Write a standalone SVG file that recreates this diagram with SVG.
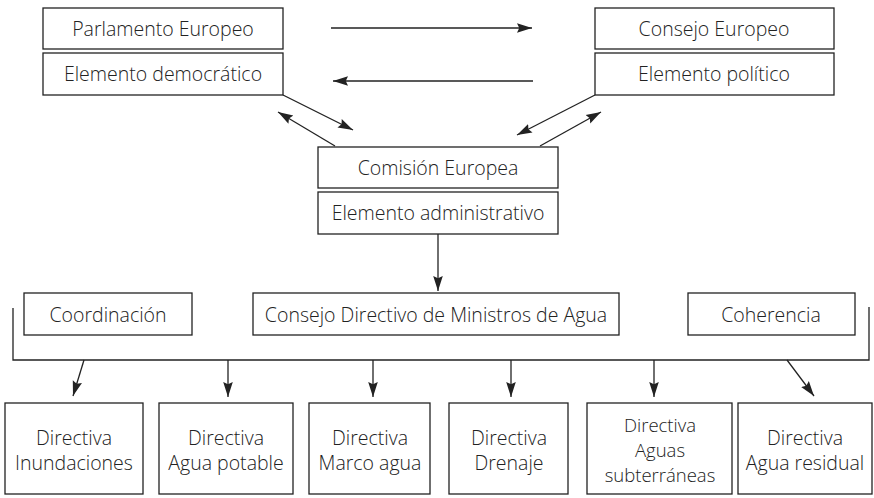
<svg xmlns="http://www.w3.org/2000/svg" width="874" height="498" viewBox="0 0 874 498">
<defs>
<style>
rect.b{fill:#fff;stroke:#222;stroke-width:1.3}
text{font-family:"Open Sans","Liberation Sans",sans-serif;font-weight:300;font-size:19.5px;fill:#222;text-anchor:middle}
text.s{font-size:18.5px}
.c line,.c polyline{stroke:#222;stroke-width:1.3;fill:none}
</style>
<marker id="ah" viewBox="0 0 10 10" refX="10" refY="5" markerWidth="15" markerHeight="15" markerUnits="userSpaceOnUse" orient="auto">
<path d="M0,1.8 L10,5 L0,8.2 L1.5,5 Z" fill="#222"/>
</marker>
</defs>
<rect width="874" height="498" fill="#fff"/>
<g id="parlamento"><rect class="b" x="43" y="8" width="240" height="41"/><text x="163" y="36">Parlamento Europeo</text></g>
<g id="democratico"><rect class="b" x="43" y="53" width="240" height="42"/><text x="163" y="81">Elemento democrático</text></g>
<g id="consejo-europeo"><rect class="b" x="595" y="8" width="239" height="41"/><text x="714" y="36">Consejo Europeo</text></g>
<g id="politico"><rect class="b" x="595" y="53" width="239" height="42"/><text x="714" y="81">Elemento político</text></g>
<g id="comision"><rect class="b" x="318" y="147" width="240" height="41"/><text x="438" y="175">Comisión Europea</text></g>
<g id="administrativo"><rect class="b" x="318" y="192" width="240" height="42"/><text x="438" y="220">Elemento administrativo</text></g>
<g id="coordinacion"><rect class="b" x="24" y="293" width="168" height="42"/><text x="108" y="322">Coordinación</text></g>
<g id="consejo-directivo"><rect class="b" x="253" y="293" width="366" height="42"/><text x="436" y="322">Consejo Directivo de Ministros de Agua</text></g>
<g id="coherencia"><rect class="b" x="688" y="293" width="167" height="42"/><text x="771" y="322">Coherencia</text></g>
<g id="d-inundaciones"><rect class="b" x="5" y="403" width="138" height="91"/><text x="74" y="445">Directiva</text><text x="74" y="470">Inundaciones</text></g>
<g id="d-potable"><rect class="b" x="159" y="403" width="134" height="91"/><text x="226" y="445">Directiva</text><text x="226" y="470">Agua potable</text></g>
<g id="d-marco"><rect class="b" x="309" y="403" width="121" height="91"/><text x="370" y="445">Directiva</text><text x="370" y="470">Marco agua</text></g>
<g id="d-drenaje"><rect class="b" x="449" y="403" width="119" height="91"/><text x="509" y="445">Directiva</text><text x="509" y="470">Drenaje</text></g>
<g id="d-subterraneas"><rect class="b" x="587" y="403" width="145" height="91"/><text class="s" x="660" y="432">Directiva</text><text class="s" x="660" y="457">Aguas</text><text class="s" x="660" y="482">subterráneas</text></g>
<g id="d-residual"><rect class="b" x="738" y="403" width="134" height="91"/><text x="805" y="445">Directiva</text><text x="805" y="470">Agua residual</text></g>
<g id="connectors" class="c">
<line x1="331" y1="28" x2="532" y2="28" marker-end="url(#ah)"/>
<line x1="533" y1="81" x2="333" y2="81" marker-end="url(#ah)"/>
<line x1="283" y1="95" x2="353" y2="130" marker-end="url(#ah)"/>
<line x1="335" y1="146" x2="278" y2="112" marker-end="url(#ah)"/>
<line x1="595" y1="95" x2="517" y2="135" marker-end="url(#ah)"/>
<line x1="540" y1="146" x2="601" y2="112" marker-end="url(#ah)"/>
<line x1="438" y1="234" x2="438" y2="291" marker-end="url(#ah)"/>
<polyline points="13,308 13,360 869,360 869,307"/>
<line x1="84" y1="360" x2="73" y2="396" marker-end="url(#ah)"/>
<line x1="228" y1="360" x2="228" y2="397" marker-end="url(#ah)"/>
<line x1="373" y1="360" x2="373" y2="397" marker-end="url(#ah)"/>
<line x1="511" y1="360" x2="511" y2="397" marker-end="url(#ah)"/>
<line x1="654" y1="360" x2="654" y2="397" marker-end="url(#ah)"/>
<line x1="787" y1="360" x2="814" y2="396" marker-end="url(#ah)"/>
</g>
</svg>
